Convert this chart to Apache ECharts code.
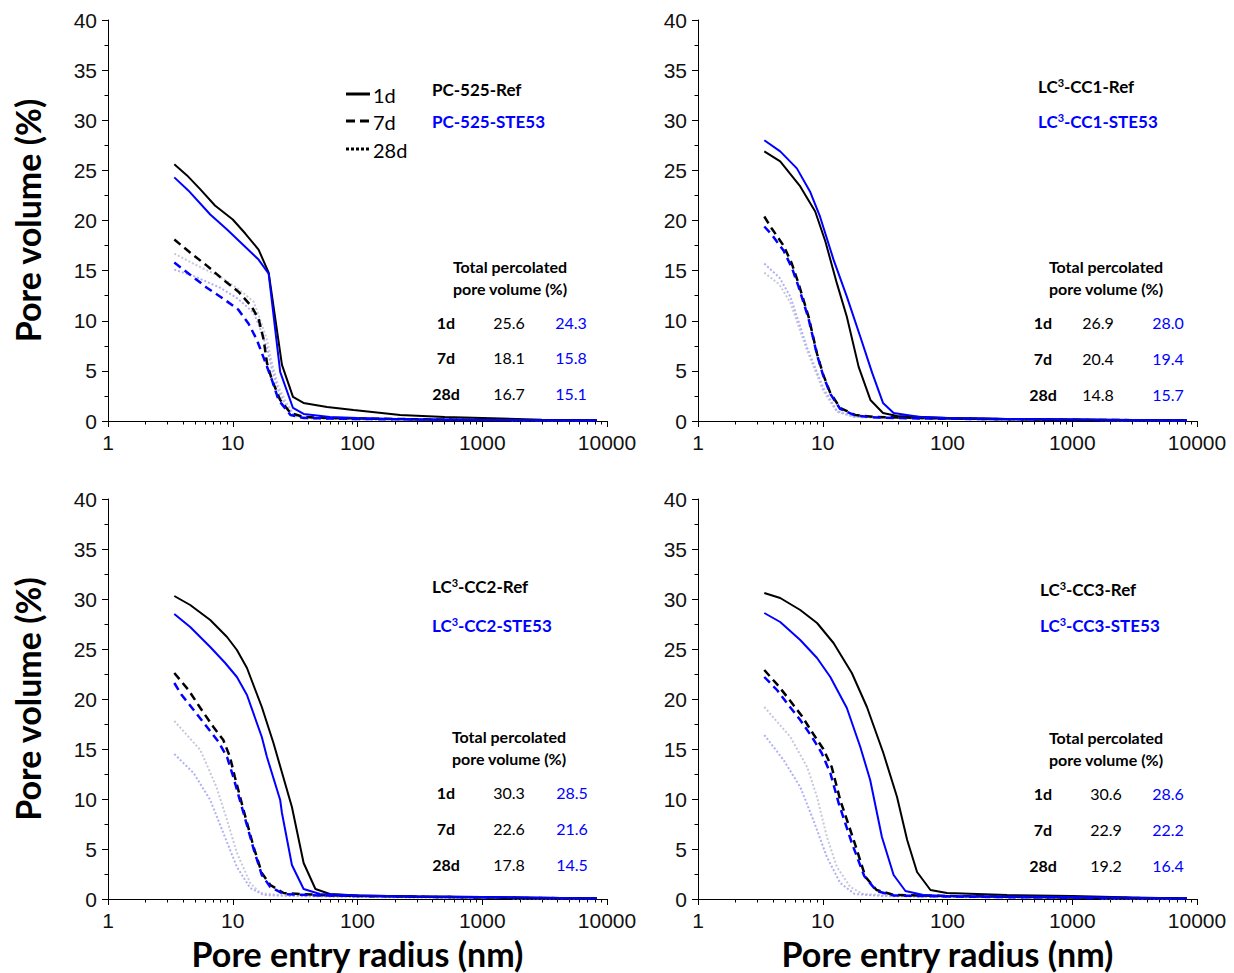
<!DOCTYPE html>
<html><head><meta charset="utf-8">
<script src="https://cdn.jsdelivr.net/npm/echarts@6/dist/echarts.min.js"></script>
<style>html,body{margin:0;padding:0;background:#fff;}#chart{width:1234px;height:973px;}</style>
</head><body><div id="chart"></div>
<script>
// ---------- data: [pore entry radius (nm), pore volume (%)] ----------
// PC-525
const PC_REF_1D = [[3.4,25.6],[4.3,24.5],[5.5,23.1],[7.2,21.5],[10,20.1],[12.6,18.7],[16.1,17.1],[19.4,14.8],[24.8,5.6],[30.4,2.4],[36.9,1.8],[57,1.4],[93,1.1],[220,0.6],[500,0.4],[1000,0.3],[3000,0.12],[8300,0.05]];
const PC_STE_1D = [[3.4,24.3],[4.4,23.0],[6.6,20.6],[9.0,19.1],[13,17.2],[16.1,16.1],[19.4,14.7],[24,4.9],[30.4,1.3],[37,0.7],[60,0.4],[100,0.3],[300,0.15],[1000,0.1],[8300,0.05]];
const PC_REF_7D = [[3.4,18.1],[4.55,16.8],[6.2,15.5],[8.2,14.2],[11.1,12.9],[14.2,11.4],[16.1,10.2],[17.7,8.1],[18.8,5.8],[20.6,4.1],[24,2.1],[29,0.8],[37,0.4],[60,0.3],[200,0.2],[1000,0.1],[8300,0.05]];
const PC_STE_7D = [[3.4,15.8],[4.55,14.6],[6.2,13.3],[8.4,12.2],[11.1,11.1],[13.4,9.7],[15.6,8.1],[18.2,5.9],[20.6,4.1],[23.3,2.1],[29,0.6],[37,0.3],[100,0.2],[1000,0.1],[8300,0.05]];
const PC_REF_28D = [[3.4,16.7],[5,15.6],[7.9,14.4],[11,13.2],[14.7,11.9],[16.6,10.1],[18.8,8.1],[20.6,5.8],[23.3,3.4],[27,1.8],[31,0.6],[40,0.3],[100,0.2],[1000,0.1],[8300,0.05]];
const PC_STE_28D = [[3.4,15.1],[5,14.4],[7.9,13.3],[11,12.2],[14.7,10.8],[16.6,9.2],[18.8,7.3],[20.6,5.2],[23.3,3.0],[27,1.4],[31,0.5],[40,0.25],[100,0.15],[1000,0.1],[8300,0.05]];
// LC3-CC1
const CC1_REF_1D = [[3.4,26.9],[4.56,25.9],[6.6,23.4],[8.7,20.9],[10.5,17.9],[13,13.7],[15.6,10.4],[19.4,5.4],[24.1,2.1],[30.4,0.8],[39.5,0.5],[100,0.3],[300,0.2],[1000,0.15],[3000,0.1],[8300,0.05]];
const CC1_STE_1D = [[3.4,28.0],[4.56,26.9],[6.2,25.2],[7.9,22.9],[9.5,20.4],[12.2,16.1],[15.6,12.4],[20,8.4],[24.9,4.8],[30.4,1.8],[37,0.8],[60,0.4],[100,0.3],[300,0.2],[1000,0.15],[8300,0.05]];
const CC1_REF_7D = [[3.4,20.4],[3.9,19.2],[4.85,17.5],[5.65,15.7],[6.4,13.7],[7.7,10.4],[9.0,6.7],[10.1,4.6],[11.5,2.8],[13.8,1.3],[18.2,0.6],[27,0.4],[60,0.3],[200,0.2],[1000,0.12],[8300,0.05]];
const CC1_STE_7D = [[3.4,19.4],[3.9,18.6],[4.85,17.0],[5.65,15.3],[6.4,13.4],[7.7,10.2],[9.0,6.6],[10.1,4.5],[11.5,2.7],[13.8,1.2],[18.2,0.55],[27,0.35],[60,0.25],[200,0.2],[1000,0.1],[8300,0.05]];
const CC1_REF_28D = [[3.4,14.8],[4.5,13.6],[5.5,11.8],[7.5,7.0],[10.1,3.0],[13,0.9],[18,0.4],[40,0.3],[100,0.2],[1000,0.1],[8300,0.05]];
const CC1_STE_28D = [[3.4,15.7],[4.5,14.3],[5.5,12.4],[7.5,7.3],[10.1,3.3],[13,1.0],[18,0.4],[40,0.3],[100,0.2],[1000,0.1],[8300,0.05]];
// LC3-CC2
const CC2_REF_1D = [[3.4,30.3],[4.56,29.4],[6.6,27.9],[9,26.2],[10.8,24.9],[13,23.1],[17.1,19.2],[21.2,15.6],[29.8,9.2],[37,3.6],[46,1.0],[60,0.5],[100,0.35],[300,0.25],[1000,0.2],[3000,0.1],[8300,0.05]];
const CC2_STE_1D = [[3.4,28.5],[4.56,27.2],[6.6,25.2],[8.7,23.6],[10.8,22.2],[13,20.4],[17.1,16.2],[18.8,14.2],[24,9.9],[24.8,8.6],[29.8,3.4],[37,1.0],[50,0.5],[100,0.35],[300,0.25],[1000,0.2],[8300,0.05]];
const CC2_REF_7D = [[3.4,22.6],[4.42,20.9],[5.5,19.1],[7,17.2],[8.4,15.9],[9.5,14.2],[10.4,12.2],[12.2,8.9],[14.7,5.2],[17.1,2.6],[20,1.4],[25.6,0.6],[50,0.4],[100,0.3],[1000,0.15],[8300,0.05]];
const CC2_STE_7D = [[3.4,21.6],[3.9,20.4],[5,18.7],[6.4,17.0],[7.7,15.7],[9,14.2],[10.1,12.2],[12.2,8.6],[14.7,5.0],[17.1,2.4],[20,1.2],[25.6,0.5],[50,0.35],[100,0.3],[1000,0.15],[8300,0.05]];
const CC2_REF_28D = [[3.4,17.8],[5.5,14.9],[7.4,11.2],[9,7.9],[10.8,4.6],[13.8,1.6],[16.6,0.6],[25,0.35],[100,0.25],[1000,0.1],[8300,0.05]];
const CC2_STE_28D = [[3.4,14.5],[4.85,12.6],[6.6,9.9],[8.4,6.6],[10.8,3.2],[13.8,1.1],[17.7,0.4],[30,0.3],[100,0.2],[1000,0.1],[8300,0.05]];
// LC3-CC3
const CC3_REF_1D = [[3.4,30.6],[4.56,30.1],[6.6,28.9],[9,27.6],[12.2,25.6],[17.1,22.6],[22.6,19.2],[30.6,14.6],[39.4,10.2],[47.5,5.9],[57,2.7],[73,0.9],[99,0.6],[300,0.4],[1000,0.3],[3000,0.15],[8300,0.05]];
const CC3_STE_1D = [[3.4,28.6],[4.56,27.7],[6.6,25.9],[9,24.1],[11.5,22.2],[15.6,19.1],[20,15.2],[24,11.9],[29.8,6.2],[37,2.4],[46,0.8],[64,0.4],[100,0.3],[300,0.25],[1000,0.2],[8300,0.05]];
const CC3_REF_7D = [[3.4,22.9],[4.42,21.3],[5.5,19.8],[6.8,18.3],[8.4,16.5],[10.1,15.0],[11.8,13.2],[13.8,9.9],[17.7,5.9],[22,2.2],[27,0.9],[37,0.4],[100,0.3],[1000,0.15],[8300,0.05]];
const CC3_STE_7D = [[3.4,22.2],[4.3,20.9],[5.3,19.4],[6.6,17.9],[8.2,16.2],[9.8,14.6],[11.5,12.6],[13.4,9.6],[17.1,5.6],[21.5,2.3],[27,0.8],[37,0.35],[100,0.25],[1000,0.12],[8300,0.05]];
const CC3_REF_28D = [[3.4,19.2],[5.5,16.2],[7.5,13.2],[9,10.2],[10.8,6.2],[13,3.2],[16.6,1.2],[21,0.5],[40,0.3],[100,0.25],[1000,0.1],[8300,0.05]];
const CC3_STE_28D = [[3.4,16.4],[4.85,13.9],[6.6,11.2],[8.4,7.9],[10.8,4.2],[13.8,1.6],[18,0.5],[30,0.3],[100,0.2],[1000,0.1],[8300,0.05]];

// total percolated pore volume tables (1d, 7d, 28d)
const AGES = ['1d', '7d', '28d'];
const PC_TOTAL_REF = ['25.6', '18.1', '16.7'];
const PC_TOTAL_STE = ['24.3', '15.8', '15.1'];
const CC1_TOTAL_REF = ['26.9', '20.4', '14.8'];
const CC1_TOTAL_STE = ['28.0', '19.4', '15.7'];
const CC2_TOTAL_REF = ['30.3', '22.6', '17.8'];
const CC2_TOTAL_STE = ['28.5', '21.6', '14.5'];
const CC3_TOTAL_REF = ['30.6', '22.9', '19.2'];
const CC3_TOTAL_STE = ['28.6', '22.2', '16.4'];

const SAMPLE_REF = ['PC-525-Ref', 'LC³-CC1-Ref', 'LC³-CC2-Ref', 'LC³-CC3-Ref'];
const SAMPLE_STE = ['PC-525-STE53', 'LC³-CC1-STE53', 'LC³-CC2-STE53', 'LC³-CC3-STE53'];

// axis ticks
const X_MIN = 1, X_MAX = 10000;
const Y_MIN = 0, Y_MAX = 40, Y_STEP = 5;
const X_MINOR_TICKS = [2,3,4,5,6,7,8,9,20,30,40,50,60,70,80,90,200,300,400,500,600,700,800,900,2000,3000,4000,5000,6000,7000,8000,9000];
const X_TITLE = 'Pore entry radius (nm)';
const Y_TITLE = 'Pore volume (%)';

// ---------- build ----------
const BLUE = '#0000ff';
const PANELS = [
  {ref:[PC_REF_1D,PC_REF_7D,PC_REF_28D], ste:[PC_STE_1D,PC_STE_7D,PC_STE_28D], tRef:PC_TOTAL_REF, tSte:PC_TOTAL_STE},
  {ref:[CC1_REF_1D,CC1_REF_7D,CC1_REF_28D], ste:[CC1_STE_1D,CC1_STE_7D,CC1_STE_28D], tRef:CC1_TOTAL_REF, tSte:CC1_TOTAL_STE},
  {ref:[CC2_REF_1D,CC2_REF_7D,CC2_REF_28D], ste:[CC2_STE_1D,CC2_STE_7D,CC2_STE_28D], tRef:CC2_TOTAL_REF, tSte:CC2_TOTAL_STE},
  {ref:[CC3_REF_1D,CC3_REF_7D,CC3_REF_28D], ste:[CC3_STE_1D,CC3_STE_7D,CC3_STE_28D], tRef:CC3_TOTAL_REF, tSte:CC3_TOTAL_STE}
];
const LAYOUT = [
  {grid:{left:108, top:20, width:499, height:401}, nameX:432, nameY:[89,121], tabX:[446,509,571], tabHeadX:510, tabHeadY:[266,288], tabY:[322,357,393]},
  {grid:{left:698, top:20, width:499, height:401}, nameX:1038, nameY:[86,121], tabX:[1043,1098,1168], tabHeadX:1106, tabHeadY:[266,288], tabY:[322,358,394]},
  {grid:{left:108, top:499, width:499, height:400}, nameX:432, nameY:[586,625], tabX:[446,509,572], tabHeadX:509, tabHeadY:[736,758], tabY:[792,828,864]},
  {grid:{left:698, top:499, width:499, height:400}, nameX:1040, nameY:[589,625], tabX:[1043,1106,1168], tabHeadX:1106, tabHeadY:[737,759], tabY:[793,829,865]}
];

const TICK_FONT = 'Liberation Sans';
const TXT_FONT = 'Lato';
const axisLineStyle = {color:'#000', width:1};

const grids = [], xAxes = [], yAxes = [], series = [], graphics = [];

PANELS.forEach((p, i) => {
  const L = LAYOUT[i];
  grids.push(Object.assign({containLabel:false}, L.grid));
  const isBottom = i >= 2, isLeft = (i % 2) === 0;
  xAxes.push({
    type:'log', logBase:10, gridIndex:i, min:X_MIN, max:X_MAX, position:'bottom',
    axisLine:{show:true, onZero:false, lineStyle:axisLineStyle},
    axisTick:{show:true, inside:false, length:6, lineStyle:axisLineStyle},
    minorTick:{show:false},
    splitLine:{show:false},
    axisLabel:{show:true, margin:11, fontSize:21, fontFamily:TICK_FONT, color:'#111', formatter:v => String(Math.round(v))},
    name: isBottom ? X_TITLE : '', nameLocation:'middle', nameGap:37,
    nameTextStyle:{fontFamily:TXT_FONT, fontWeight:'bold', fontSize:34, color:'#000'}
  });
  xAxes.push({
    type:'log', logBase:10, gridIndex:i, min:X_MIN, max:X_MAX, position:'bottom',
    axisLine:{show:false}, axisLabel:{show:false}, splitLine:{show:false},
    axisTick:{show:true, inside:false, length:3.5, customValues:X_MINOR_TICKS, lineStyle:axisLineStyle}
  });
  yAxes.push({
    type:'value', gridIndex:i, min:Y_MIN, max:Y_MAX, interval:Y_STEP, position:'left',
    axisLine:{show:true, onZero:false, lineStyle:axisLineStyle},
    axisTick:{show:true, inside:false, length:6, lineStyle:axisLineStyle},
    minorTick:{show:true, splitNumber:2, length:3.5, lineStyle:axisLineStyle},
    splitLine:{show:false},
    axisLabel:{margin:11, fontSize:21, fontFamily:TICK_FONT, color:'#111'},
    name: isLeft ? Y_TITLE : '', nameLocation:'middle', nameGap:64,
    nameTextStyle:{fontFamily:TXT_FONT, fontWeight:'bold', fontSize:34, color:'#000'}
  });
  const xi = i * 2;
  const styles = [
    {type:'solid', width:2},
    {type:[8,5], width:2.5},
    {type:[2,2], width:2}
  ];
  [2,1,0].forEach(k => {
    const refColor = k === 2 ? '#c8c8dc' : '#000';
    const steColor = k === 2 ? '#b0b0f4' : BLUE;
    series.push({
      type:'line', name:SAMPLE_REF[i] + ' ' + AGES[k], xAxisIndex:xi, yAxisIndex:i,
      data:p.ref[k], showSymbol:false, symbol:'none', silent:true, animation:false,
      lineStyle:{color:refColor, width:styles[k].width, type:styles[k].type}, z:k===2?1:3
    });
    series.push({
      type:'line', name:SAMPLE_STE[i] + ' ' + AGES[k], xAxisIndex:xi, yAxisIndex:i,
      data:p.ste[k], showSymbol:false, symbol:'none', silent:true, animation:false,
      lineStyle:{color:steColor, width:styles[k].width, type:styles[k].type}, z:k===2?1:3
    });
  });
  const txt = (x, y, text, opt) => graphics.push({
    type:'text', x:x, y:y, silent:true,
    style:Object.assign({text:text, fill:'#000', font:'16px ' + TXT_FONT, textAlign:'left', textVerticalAlign:'middle', align:'left', verticalAlign:'middle'}, opt || {})
  });
  const supRich = (color) => ({s:{fontSize:11, fontWeight:'bold', fontFamily:TXT_FONT, fill:color, padding:[0,0,8,0]}});
  const rich = (t) => t.replace('³', '{s|3}');
  txt(L.nameX, L.nameY[0], rich(SAMPLE_REF[i]), {font:'bold 17px ' + TXT_FONT, rich:supRich('#000')});
  txt(L.nameX, L.nameY[1], rich(SAMPLE_STE[i]), {font:'bold 17px ' + TXT_FONT, fill:BLUE, rich:supRich(BLUE)});
  const C = {textAlign:'center', align:'center'};
  txt(L.tabHeadX, L.tabHeadY[0], 'Total percolated', Object.assign({font:'bold 16px ' + TXT_FONT}, C));
  txt(L.tabHeadX, L.tabHeadY[1], 'pore volume (%)', Object.assign({font:'bold 16px ' + TXT_FONT}, C));
  AGES.forEach((a, r) => {
    txt(L.tabX[0], L.tabY[r], a, Object.assign({font:'bold 16px ' + TXT_FONT}, C));
    txt(L.tabX[1], L.tabY[r], p.tRef[r], Object.assign({font:'16px ' + TXT_FONT}, C));
    txt(L.tabX[2], L.tabY[r], p.tSte[r], Object.assign({font:'16px ' + TXT_FONT, fill:BLUE}, C));
  });
});

// age legend (line-style key) in first panel
const LEG_Y = [94, 121, 149];
const LEG_DASH = [null, [9,5], [3,2]];
AGES.forEach((a, k) => {
  graphics.push({type:'line', silent:true, shape:{x1:346, y1:LEG_Y[k], x2:370, y2:LEG_Y[k]},
    style:{stroke:'#000', lineWidth:3, lineDash:LEG_DASH[k]}});
  graphics.push({type:'text', silent:true, x:373, y:LEG_Y[k] + 1,
    style:{text:a, fill:'#000', font:'20px ' + TXT_FONT, textAlign:'left', textVerticalAlign:'middle', align:'left', verticalAlign:'middle'}});
});

const chart = echarts.init(document.getElementById('chart'), null, {renderer:'svg', width:1234, height:973});
chart.setOption({
  backgroundColor:'#fff',
  animation:false,
  grid:grids, xAxis:xAxes, yAxis:yAxes, series:series,
  graphic:{elements:graphics}
});
</script></body></html>
